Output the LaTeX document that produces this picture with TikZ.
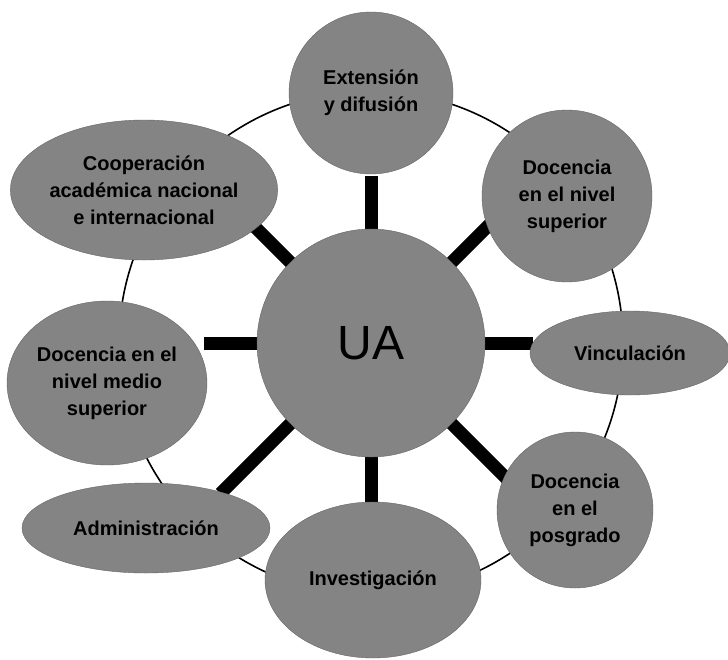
\documentclass[tikz,border=0pt]{standalone}
\usepackage{fontspec}
\setmainfont{Liberation Sans}
\usepackage{tikz}
\usetikzlibrary{shapes.geometric, calc, backgrounds}
\definecolor{grain}{RGB}{132, 132, 132}
\newcommand{\topicfont}{\fontsize{20}{27}\selectfont\bfseries}
\tikzset{
  topic/.style={ellipse, draw=black!60, fill=grain, inner sep=0pt, align=center, font=\topicfont},
  spoke/.style={line width=13pt, black},
  ring/.style={line width=1.6pt, black}
}

\begin{document}
\begin{tikzpicture}[x=1pt, y=-1pt]
  \useasboundingbox (0,0) rectangle (728,659);

  % Centre
  \node[topic, minimum width=228pt, minimum height=228pt, font=\fontsize{48}{50}\selectfont] (ua) at (371,343) {UA};

  % Areas round the centre
  \node[topic, minimum width=164pt, minimum height=162pt] (ext) at (371,93) {Extensión\\y difusión};
  \node[topic, minimum width=170pt, minimum height=172pt] (sup) at (567,196) {Docencia\\en el nivel\\superior};
  \node[topic, minimum width=200pt, minimum height=84pt] (vin) at (630,353) {Vinculación};
  \node[topic, minimum width=156pt, minimum height=156pt] (pos) at (575,510) {Docencia\\en el\\posgrado};
  \node[topic, minimum width=216pt, minimum height=156pt] (inv) at (373,580) {Investigación};
  \node[topic, minimum width=248pt, minimum height=90pt] (adm) at (146,528) {Administración};
  \node[topic, minimum width=200pt, minimum height=164pt] (med) at (107,383) {Docencia en el\\nivel medio\\superior};
  \node[topic, minimum width=254pt, minimum height=140pt] (coop) at (144,190) {Cooperación\\académica nacional\\e internacional};

  \begin{scope}[on background layer]
    \fill[white] (0,0) rectangle (728,659);
    % Ring through the areas
    \draw[ring] (ua.center) circle[radius=252pt];
    % Spokes
    \draw[spoke] (ua.center) -- ($(ua.center)!167pt!(ua.north)$);
    \draw[spoke] (ua.center) -- ($(ua.center)!168pt!(ua.north east)$);
    \draw[spoke] (ua.center) -- ($(ua.center)!162pt!(ua.east)$);
    \draw[spoke] (ua.center) -- ($(ua.center)!192pt!(ua.south east)$);
    \draw[spoke] (ua.center) -- ($(ua.center)!162pt!(ua.south)$);
    \draw[spoke] (ua.center) -- ($(ua.center)!213pt!(ua.south west)$);
    \draw[spoke] (ua.center) -- ($(ua.center)!167pt!(ua.west)$);
    \draw[spoke] (ua.center) -- ($(ua.center)!169pt!(ua.north west)$);
  \end{scope}
\end{tikzpicture}
\end{document}
